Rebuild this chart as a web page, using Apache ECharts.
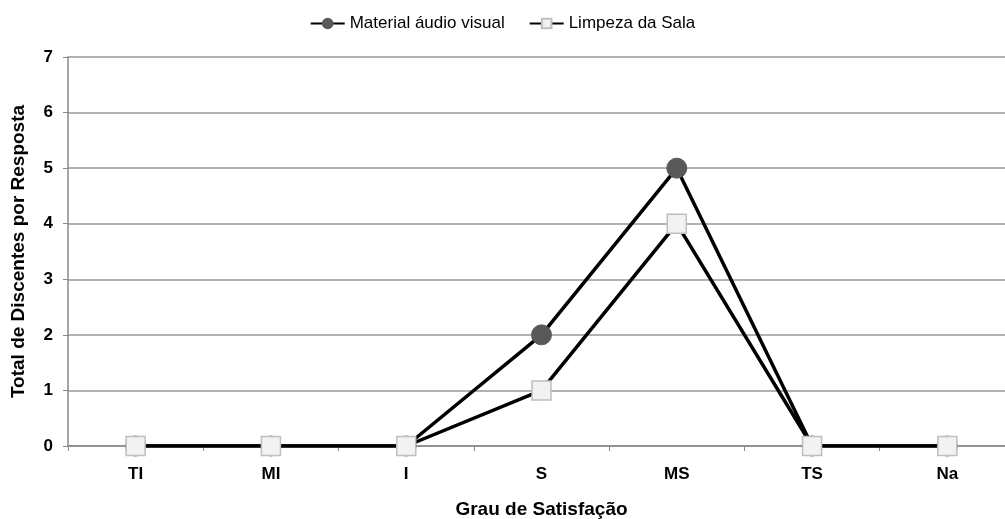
<!DOCTYPE html>
<html>
<head>
<meta charset="utf-8">
<script src="https://cdn.jsdelivr.net/npm/echarts@6/dist/echarts.min.js"></script>
<style>
  html, body { margin: 0; padding: 0; background: #fff; }
  #chart { width: 1005px; height: 519px; }
</style>
</head>
<body>
<div id="chart"></div>
<script>
// Satisfaction levels on the x axis
const categories = ['TI', 'MI', 'I', 'S', 'MS', 'TS', 'Na'];
// Number of students per answer
const materialAudioVisual = [0, 0, 0, 2, 5, 0, 0];
const limpezaSala = [0, 0, 0, 1, 4, 0, 0];
const seriesNames = ['Material áudio visual', 'Limpeza da Sala'];

const chart = echarts.init(document.getElementById('chart'), null, { renderer: 'canvas' });
const boldFont = { fontFamily: 'Liberation Sans, Arial, sans-serif', fontWeight: 'bold', color: '#000' };

chart.setOption({
  animation: false,
  backgroundColor: '#fff',
  legend: {
    top: 10,
    left: 'center',
    itemGap: 24,
    itemWidth: 34,
    itemHeight: 12,
    textStyle: { fontFamily: 'Liberation Sans Narrow, Arial Narrow, Liberation Sans, sans-serif', fontSize: 17, color: '#000' },
    data: seriesNames
  },
  grid: { left: 68, right: -10, top: 57, bottom: 73, containLabel: false, outerBoundsMode: 'none' },
  xAxis: {
    type: 'category',
    data: categories,
    boundaryGap: true,
    name: 'Grau de Satisfação',
    nameLocation: 'middle',
    nameGap: 54,
    nameTextStyle: Object.assign({ fontSize: 19 }, boldFont),
    axisLine: { lineStyle: { color: '#888', width: 1.5 } },
    axisTick: { show: true, length: 5, lineStyle: { color: '#888' } },
    axisLabel: Object.assign({ fontSize: 17, margin: 20 }, boldFont)
  },
  yAxis: {
    type: 'value',
    min: 0,
    max: 7,
    interval: 1,
    name: 'Total de Discentes por Resposta',
    nameLocation: 'middle',
    nameGap: 40,
    nameTextStyle: Object.assign({ fontSize: 19 }, boldFont),
    axisLine: { show: true, lineStyle: { color: '#888', width: 1.5 } },
    axisTick: { show: true, length: 5, lineStyle: { color: '#888' } },
    axisLabel: Object.assign({ fontSize: 17, margin: 15 }, boldFont),
    splitLine: { lineStyle: { color: '#999', width: 1.5 } }
  },
  series: [
    {
      name: seriesNames[0],
      type: 'line',
      data: materialAudioVisual,
      symbol: 'circle',
      symbolSize: 20,
      showAllSymbol: true,
      lineStyle: { color: '#000', width: 3.5 },
      itemStyle: { color: '#595959', borderColor: '#595959', borderWidth: 1 },
      z: 2
    },
    {
      name: seriesNames[1],
      type: 'line',
      data: limpezaSala,
      symbol: 'rect',
      symbolSize: 19,
      showAllSymbol: true,
      lineStyle: { color: '#000', width: 3.5 },
      itemStyle: { color: '#f2f2f2', borderColor: '#bfbfbf', borderWidth: 1.5 },
      z: 3
    }
  ]
});
</script>
</body>
</html>
